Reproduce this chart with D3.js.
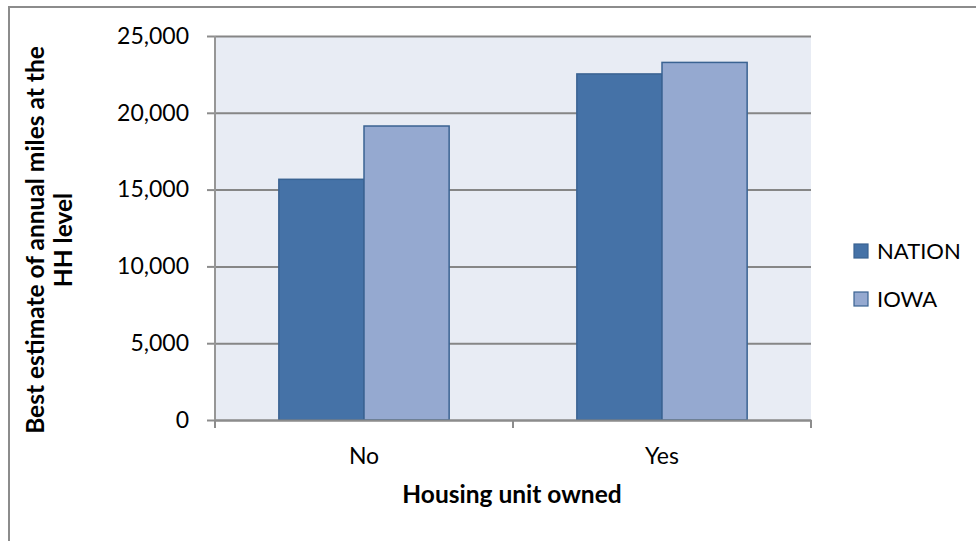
<!DOCTYPE html>
<html>
<head>
<meta charset="utf-8">
<script src="https://cdn.jsdelivr.net/npm/d3@7"></script>
<style>
  body { margin: 0; background: #fff; }
  text { font-family: Lato, "Open Sans", sans-serif; fill: #000; }
</style>
</head>
<body>
<svg id="chart" width="976" height="541"></svg>
<script>
const categories = ["No", "Yes"];
const series = ["NATION", "IOWA"];
const nation = [15670, 22530];
const iowa = [19140, 23280];
const yTicks = [0, 5000, 10000, 15000, 20000, 25000];

const colors = { NATION: "#4572a7", IOWA: "#95a9d0" };

const svg = d3.select("#chart");
const plot = { left: 215, right: 811, top: 36, bottom: 420 };

const data = categories.map((c, i) => ({ cat: c, NATION: nation[i], IOWA: iowa[i] }));

// outer chart border (runs off the page to the right and bottom)
svg.append("rect")
  .attr("x", 9).attr("y", 7).attr("width", 1000).attr("height", 600)
  .attr("fill", "none").attr("stroke", "#8c8c8c").attr("stroke-width", 2);

let y = d3.scaleLinear().domain([0, 25000]).range([plot.bottom, plot.top]);
let x0 = d3.scaleBand().domain(categories).range([plot.left, plot.right]);
let x1 = d3.scaleBand().domain(series).range([0, x0.bandwidth()]).paddingOuter(0.75);

svg.append("rect")
  .attr("x", plot.left).attr("y", plot.top)
  .attr("width", plot.right - plot.left).attr("height", plot.bottom - plot.top)
  .attr("fill", "#e8ecf4");

// gridlines + y axis
const yAxis = svg.append("g")
  .attr("transform", `translate(${plot.left},0)`)
  .call(d3.axisLeft(y).tickValues(yTicks).tickFormat(d3.format(",")).tickSize(8).tickPadding(18));
yAxis.select(".domain").remove();
yAxis.selectAll(".tick line").attr("stroke", "#8c8c8c").attr("stroke-width", 2);
yAxis.selectAll(".tick").append("line")
  .attr("x1", 0).attr("x2", plot.right - plot.left)
  .attr("stroke", "#868686").attr("stroke-width", 2);
yAxis.selectAll("text").attr("font-size", 23).style("font-family", "Lato");

svg.append("line")
  .attr("x1", plot.left).attr("x2", plot.left)
  .attr("y1", plot.top).attr("y2", plot.bottom)
  .attr("stroke", "#969696").attr("stroke-width", 2);

// bars
svg.append("g")
  .selectAll("g").data(data)
  .join("g")
    .attr("transform", d => `translate(${x0(d.cat)},0)`)
  .selectAll("rect").data(d => series.map(s => ({ s, v: d[s] })))
  .join("rect")
    .attr("x", d => x1(d.s))
    .attr("y", d => y(d.v))
    .attr("width", x1.bandwidth())
    .attr("height", d => y(0) - y(d.v))
    .attr("fill", d => colors[d.s])
    .attr("stroke", "#3a6392")
    .attr("stroke-width", 1.5);

// x axis
const xAxis = svg.append("g")
  .attr("transform", `translate(0,${plot.bottom})`)
  .call(d3.axisBottom(x0).tickSize(0).tickPadding(28));
xAxis.select(".domain").attr("stroke", "#8c8c8c").attr("stroke-width", 2);
xAxis.selectAll("text").attr("font-size", 23).style("font-family", "Lato");
xAxis.selectAll(".xt").data([plot.left, (plot.left + plot.right) / 2, plot.right])
  .join("line")
    .attr("x1", d => d).attr("x2", d => d)
    .attr("y1", 0).attr("y2", 8)
    .attr("stroke", "#8c8c8c").attr("stroke-width", 2);

// axis titles
svg.append("text")
  .attr("x", (plot.left + plot.right) / 2 - 1).attr("y", 503)
  .attr("text-anchor", "middle")
  .attr("font-size", 24.5).attr("font-weight", "bold")
  .text("Housing unit owned");

const yt = svg.append("text")
  .attr("transform", "translate(0,240) rotate(-90)")
  .attr("text-anchor", "middle")
  .attr("font-size", 24.5).attr("font-weight", "bold");
yt.append("tspan").attr("x", 0).attr("y", 44).text("Best estimate of annual miles at the");
yt.append("tspan").attr("x", 0).attr("y", 72).text("HH level");

// legend
const legend = svg.append("g").attr("transform", "translate(854,244)");
const li = legend.selectAll("g").data(series)
  .join("g").attr("transform", (d, i) => `translate(0,${i * 48})`);
li.append("rect")
  .attr("width", 14).attr("height", 14)
  .attr("fill", d => colors[d]).attr("stroke", "#3a6392").attr("stroke-width", 1.2);
li.append("text")
  .attr("x", 23).attr("y", 7).attr("dy", "0.36em")
  .attr("font-size", 22)
  .text(d => d);
</script>
</body>
</html>
